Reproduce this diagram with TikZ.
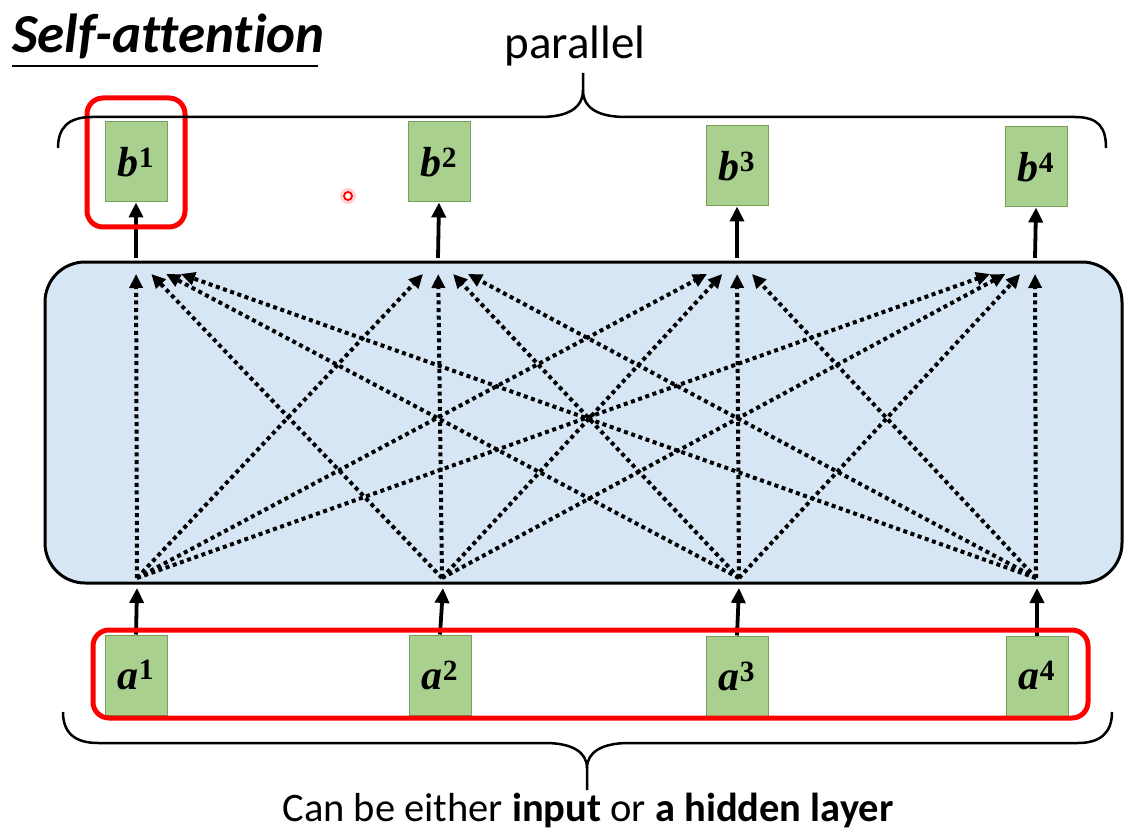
\documentclass[tikz,border=0pt]{standalone}
\usepackage{fontspec}
\setmainfont{Carlito}
\newfontfamily\titlefont[Ligatures=NoCommon]{Carlito}
\newfontfamily\cellfont{Liberation Serif}
\usetikzlibrary{arrows.meta,calc}
\definecolor{cellgreen}{RGB}{169,208,142}
\definecolor{celledge}{RGB}{118,160,88}
\definecolor{layerblue}{RGB}{214,230,244}
\newcommand{\cellvec}[2]{{\bfseries\itshape #1}\textsuperscript{\bfseries #2}}
\tikzset{
  cell/.style={draw=celledge,fill=cellgreen,line width=1pt,minimum width=62pt,minimum height=80pt,inner sep=0pt,font=\cellfont\fontsize{42}{44}\selectfont},
  layer/.style={draw,line width=3pt,fill=layerblue,rounded corners=40pt,minimum width=1077pt,minimum height=321pt,inner sep=0pt},
  focus/.style={draw=red,line width=5pt,rounded corners=16pt,inner sep=0pt},
  up/.style={-{Triangle[length=15pt,width=14pt]},line width=3.8pt},
  att/.style={-{Triangle[length=14pt,width=13pt]},line width=4pt,dash pattern=on 4pt off 3.6pt},
  bracket/.style={line width=2.5pt}
}

\begin{document}
\begin{tikzpicture}[x=1pt,y=-1pt]
\useasboundingbox (0,0) rectangle (1143,837);

% Title
\node[anchor=west,inner sep=0pt,font=\titlefont\fontsize{55}{58}\selectfont\bfseries\itshape] (title) at (12,36) {Self-attention};
\draw[line width=2pt] (12,66) -- (318,66);

% Self-attention layer
\node[layer] (layer) at (583.5,422.5) {};

% Points on the layer where the connections meet
\foreach \i/\x in {1/137,2/442,3/739,4/1036}
  \coordinate (src\i) at (\x,578);
\foreach \i/\x in {1/137,2/443,3/739,4/1037}
  \coordinate (in\i) at (\x,588);
\foreach \j/\x in {1/136,2/438,3/737,4/1035}
  \coordinate (dst\j) at (\x,258);

% Every input attends to every output
\foreach \i in {1,...,4}
  \foreach \j in {1,...,4}
  {
    \draw[att] (src\i) -- ($(dst\j)!0.05!(src\i)$);
  }

% Outputs
\node[cell] (b1) at (136,162) {\cellvec{b}{1}};
\node[cell] (b2) at (439,162) {\cellvec{b}{2}};
\node[cell] (b3) at (737,166) {\cellvec{b}{3}};
\node[cell] (b4) at (1036,167) {\cellvec{b}{4}};

% Inputs
\node[cell] (a1) at (136,675) {\cellvec{a}{1}};
\node[cell] (a2) at (440,675) {\cellvec{a}{2}};
\node[cell] (a3) at (737,676) {\cellvec{a}{3}};
\node[cell] (a4) at (1037,676) {\cellvec{a}{4}};

% Solid arrows in and out of the layer
\foreach \i in {1,...,4}
{
  \draw[up] (a\i.north) -- (in\i);
  \draw[up] (dst\i) -- (b\i.south);
}

% Red frames
\node[focus,minimum width=98pt,minimum height=129pt] (pick) at (136,162.5) {};
\node[focus,minimum width=995pt,minimum height=88pt] (inputs) at (590.5,674) {};

% Pointer
\node[circle,fill=red!18,minimum size=16pt,inner sep=0pt] (glow) at (348,196) {};
\node[circle,draw=red,fill=white,line width=1.8pt,minimum size=8pt,inner sep=0pt] (pointer) at (348,196) {};

% Top brace
\draw[bracket] (58,148) .. controls (58,128) and (68,117) .. (92,117) -- (540,117)
  .. controls (568,117) and (583,108) .. (583,90) -- (583,73);
\draw[bracket] (583,90) .. controls (583,108) and (598,117) .. (626,117) -- (1075,117)
  .. controls (1099,117) and (1106,128) .. (1106,148);
\node[font=\fontsize{47}{50}\selectfont] (parallel) at (575,46) {parallel};

% Bottom brace
\draw[bracket] (63,712) .. controls (63,733) and (75,743) .. (98,743) -- (545,743)
  .. controls (572,743) and (587,752) .. (587,768) -- (587,790);
\draw[bracket] (587,768) .. controls (587,752) and (602,743) .. (629,743) -- (1078,743)
  .. controls (1100,743) and (1112,733) .. (1112,712);
\node[font=\fontsize{40.5}{44}\selectfont] (either) at (588,810) {Can be either \textbf{input} or \textbf{a hidden layer}};

\end{tikzpicture}
\end{document}
